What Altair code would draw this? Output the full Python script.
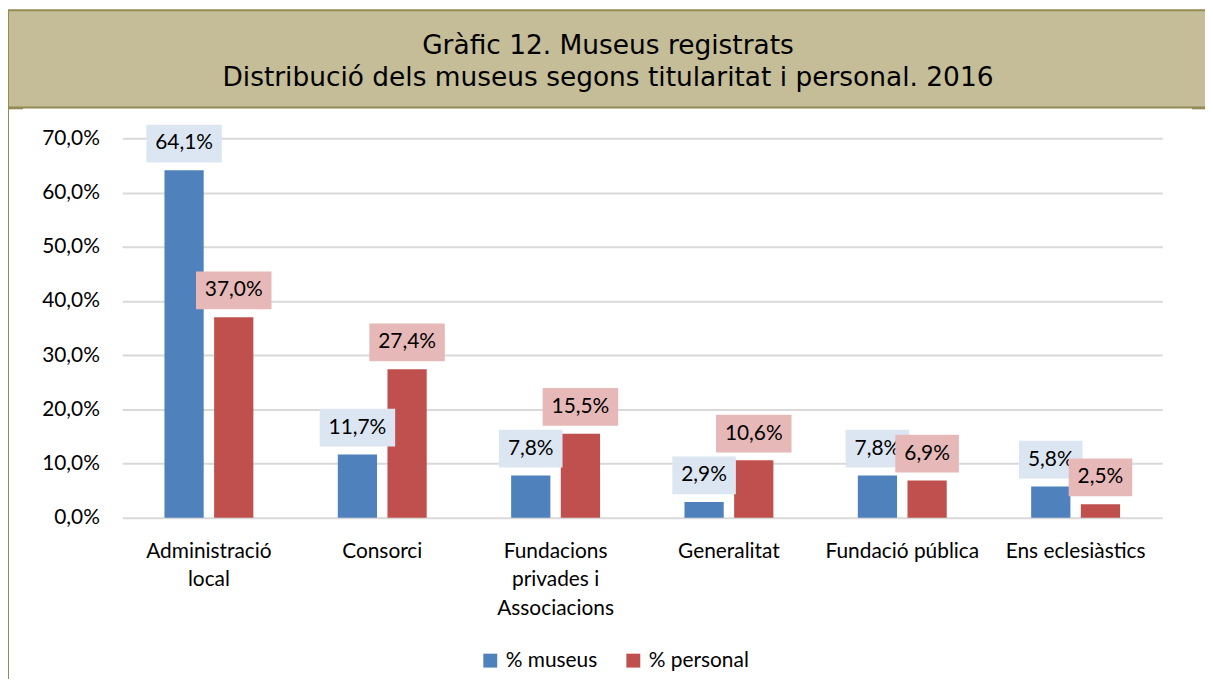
import altair as alt
import pandas as pd

# ---- data -------------------------------------------------------------
title_lines = [
    "Gràfic 12. Museus registrats",
    "Distribució dels museus segons titularitat i personal. 2016",
]
categories = [
    "Administració\nlocal",
    "Consorci",
    "Fundacions\nprivades i\nAssociacions",
    "Generalitat",
    "Fundació pública",
    "Ens eclesiàstics",
]
series = ["% museus", "% personal"]
museus = [64.1, 11.7, 7.8, 2.9, 7.8, 5.8]
personal = [37.0, 27.4, 15.5, 10.6, 6.9, 2.5]
y_ticks = [0, 10, 20, 30, 40, 50, 60, 70]

# ---- styles -----------------------------------------------------------
BLUE = "#4F81BD"
RED = "#C0504D"
BLUE_BG = "#DCE6F2"
RED_BG = "#E6B9B8"
TAN = "#C4BD97"
OLIVE = "#948A54"
GRID = "#D9D9D9"
FONT = "Lato"
FS = 21

rows = []
for c, m, p in zip(categories, museus, personal):
    rows.append({"categoria": c, "serie": series[0], "valor": m})
    rows.append({"categoria": c, "serie": series[1], "valor": p})
df = pd.DataFrame(rows)

W = 1047
H = 382

x_enc = alt.X(
    "categoria:N",
    sort=categories,
    scale=alt.Scale(paddingInner=0, paddingOuter=0),
    axis=alt.Axis(
        title=None,
        labelAngle=0,
        labelExpr="split(datum.label, '\\n')",
        labelFont=FONT,
        labelFontSize=FS,
        labelColor="#000000",
        labelLineHeight=28.5,
        labelPadding=23,
        labelBaseline="top",
        ticks=False,
        tickSize=0,
        domain=False,
        labelLimit=300,
    ),
)
xo_enc = alt.XOffset(
    "serie:N", sort=series, scale=alt.Scale(paddingInner=0.21, paddingOuter=0.85)
)
y_enc = alt.Y(
    "valor:Q",
    scale=alt.Scale(domain=[0, 70], nice=False),
    axis=alt.Axis(
        title=None,
        values=y_ticks,
        labelExpr="replace(format(datum.value, '.1f'), '.', ',') + '%'",
        labelFont=FONT,
        labelFontSize=FS,
        labelColor="#000000",
        labelPadding=23,
        ticks=False,
        tickSize=0,
        domain=False,
        grid=True,
        gridColor=GRID,
        gridWidth=2,
    ),
)

base = alt.Chart(df)

bars = base.mark_bar().encode(
    x=x_enc,
    xOffset=xo_enc,
    y=y_enc,
    color=alt.Color(
        "serie:N",
        sort=series,
        scale=alt.Scale(domain=series, range=[BLUE, RED]),
        legend=alt.Legend(
            title=None,
            orient="none",
            legendX=360,
            legendY=515,
            direction="horizontal",
            symbolType="square",
            symbolSize=196,
            symbolStrokeWidth=0,
            labelFont=FONT,
            labelFontSize=FS,
            labelColor="#000000",
            labelOffset=5,
            columnPadding=25,
            padding=0,
        ),
    ),
)

labeled = base.transform_calculate(
    txt="replace(format(datum.valor, '.1f'), '.', ',') + '%'"
).transform_calculate(
    bw="12 * length(datum.txt) + 16"
).transform_calculate(
    shp="'M-1,' + (-38 / datum.bw) + 'H1V' + (38 / datum.bw) + 'H-1Z'",
    sz="datum.bw * datum.bw",
)


def label_layers(serie, bg):
    sub = labeled.transform_filter(alt.datum.serie == serie)
    box = sub.mark_point(filled=True, opacity=1, strokeWidth=0, yOffset=-27).encode(
        x=alt.X("categoria:N", sort=categories),
        xOffset=alt.XOffset("serie:N", sort=series),
        y=alt.Y("valor:Q"),
        shape=alt.Shape("shp:N", scale=None),
        size=alt.Size("sz:Q", scale=None),
        fill=alt.value(bg),
    )
    txt = sub.mark_text(
        font=FONT, fontSize=FS, color="#000000", baseline="middle", yOffset=-27
    ).encode(
        x=alt.X("categoria:N", sort=categories),
        xOffset=alt.XOffset("serie:N", sort=series),
        y=alt.Y("valor:Q"),
        text="txt:N",
    )
    return [box, txt]


one = pd.DataFrame({"k": [0]})
header = alt.Chart(one).mark_rect(fill=TAN, stroke=OLIVE, strokeWidth=2).encode(
    x=alt.value(-116), x2=alt.value(1100), y=alt.value(-129), y2=alt.value(-31)
)
left_border = alt.Chart(one).mark_rule(color=OLIVE, strokeWidth=2).encode(
    x=alt.value(-115), y=alt.value(-129), y2=alt.value(545)
)
corner_left = alt.Chart(one).mark_rule(color=OLIVE, strokeWidth=1.5).encode(
    x=alt.value(-116), x2=alt.value(-100), y=alt.value(-30)
)
corner_right = alt.Chart(one).mark_rule(color=OLIVE, strokeWidth=1.5).encode(
    x=alt.value(1077), x2=alt.value(1095), y=alt.value(-30)
)
t1 = alt.Chart(one).mark_text(
    font="DejaVu Sans", fontSize=26.6, color="#000000", baseline="alphabetic", align="center"
).encode(x=alt.value(489), y=alt.value(-85.3), text=alt.value(title_lines[0]))
t2 = alt.Chart(one).mark_text(
    font="DejaVu Sans", fontSize=26.6, color="#000000", baseline="alphabetic", align="center"
).encode(x=alt.value(489), y=alt.value(-52.7), text=alt.value(title_lines[1]))

chart = alt.layer(
    header,
    left_border,
    corner_left,
    corner_right,
    t1,
    t2,
    bars,
    *label_layers(series[0], BLUE_BG),
    *label_layers(series[1], RED_BG),
).properties(
    width=W,
    height=H,
    padding={"left": 115, "top": 129, "right": 43, "bottom": 160},
    autosize=alt.AutoSizeParams(type="none"),
    background="#FFFFFF",
).configure_view(stroke=None)

chart.save("out.html", embed_options={"renderer": "svg", "actions": False})
